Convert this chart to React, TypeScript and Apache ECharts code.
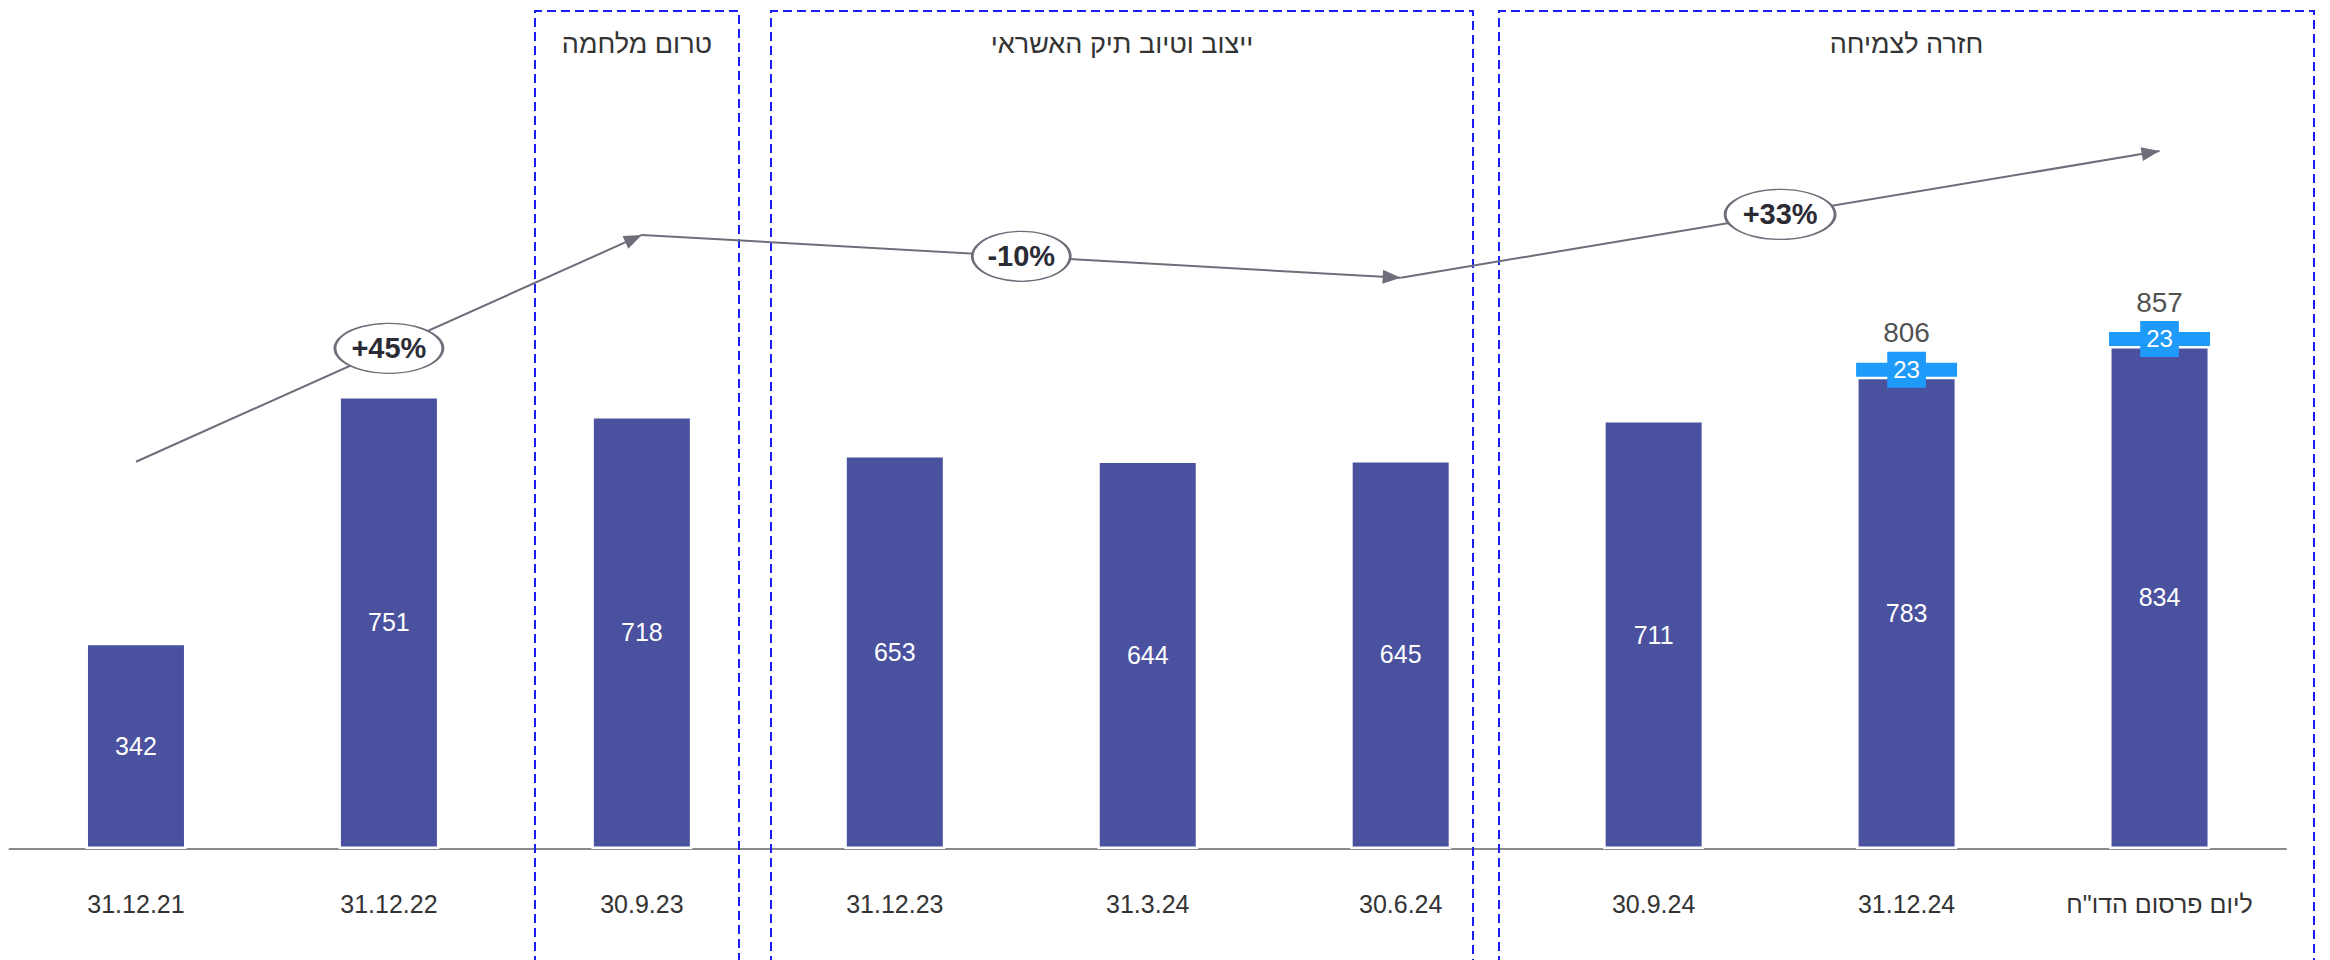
import React, { useEffect, useRef } from 'react';
import * as echarts from 'echarts';

// ---------- data ----------
const categories = ['31.12.21', '31.12.22', '30.9.23', '31.12.23', '31.3.24', '30.6.24', '30.9.24', '31.12.24', 'ליום פרסום הדו"ח'];
const baseValues = [342, 751, 718, 653, 644, 645, 711, 783, 834];
const addedValues: (number | null)[] = [null, null, null, null, null, null, null, 23, 23];
// trend arrows: anchor category indices and levels (axis units)
const arrowCats = [0, 2, 5, 8];
const arrowLevels = [642, 1018, 947, 1157];
const changeLabels = ['+45%', '-10%', '+33%'];
const periodTitles = ['טרום מלחמה', 'ייצוב וטיוב תיק האשראי', 'חזרה לצמיחה'];

// ---------- layout / style ----------
const W = 2330;
const H = 960;
const periodBoxes = [
  [535, 739],
  [771, 1473],
  [1499, 2314],
];
const BOX_TOP = 11;
const DARK = '#4a519f';
const LIGHT = '#1e9bfa';
const ARROW = '#6e6e7a';
const BOXC = '#1c1cf5';
const FONT = '"Liberation Sans", Arial, sans-serif';
const ellipseWidths = [108, 98, 110];

export default function App() {
  const ref = useRef<HTMLDivElement>(null);
  useEffect(() => {
    if (!ref.current) return;
    const chart = echarts.init(ref.current, undefined, { renderer: 'svg' });

    const totals = baseValues.map((v, i) => (addedValues[i] != null ? v + (addedValues[i] as number) : null));
    const totalPoints = totals
      .map((t, i) => (t != null ? [i, t] : null))
      .filter((p) => p != null);

    const arrowSegments = [] as any[];
    const ellipsePoints = [] as any[];
    for (let k = 0; k < arrowCats.length - 1; k++) {
      arrowSegments.push([
        { coord: [arrowCats[k], arrowLevels[k]] },
        { coord: [arrowCats[k + 1], arrowLevels[k + 1]] },
      ]);
      ellipsePoints.push({
        value: [(arrowCats[k] + arrowCats[k + 1]) / 2, (arrowLevels[k] + arrowLevels[k + 1]) / 2],
        symbolSize: [ellipseWidths[k], 50],
        label: { formatter: changeLabels[k] },
      });
    }

    const graphics: any[] = [];
    periodBoxes.forEach(([x1, x2], i) => {
      graphics.push({
        type: 'polyline',
        silent: true,
        shape: { points: [[x1, H + 5], [x1, BOX_TOP], [x2, BOX_TOP], [x2, H + 5]] },
        style: { stroke: BOXC, lineWidth: 2, lineDash: [9, 5], fill: null },
        z: 1,
      });
      graphics.push({
        type: 'text',
        silent: true,
        x: (x1 + x2) / 2,
        y: 44,
        style: {
          text: periodTitles[i],
          fill: '#333333',
          font: `27px ${FONT}`,
          textAlign: 'center',
          textVerticalAlign: 'middle',
        },
        z: 1,
      });
    });

    chart.setOption({
      animation: false,
      backgroundColor: '#ffffff',
      textStyle: { fontFamily: FONT },
      grid: { left: 9.5, right: 44, top: 4.5, bottom: 111, containLabel: false },
      xAxis: [
        {
          type: 'category',
          data: categories,
          axisTick: { show: false },
          axisLine: { lineStyle: { color: '#8a8a8a', width: 2 } },
          axisLabel: { color: '#333333', fontSize: 25, margin: 42, fontFamily: FONT, interval: 0 },
          splitLine: { show: false },
        },
        { type: 'value', min: -0.5, max: 8.5, show: false, splitLine: { show: false } },
      ],
      yAxis: { type: 'value', min: 0, max: 1400, show: false, splitLine: { show: false } },
      graphic: graphics,
      series: [
        {
          type: 'bar',
          name: 'base',
          stack: 'a',
          data: baseValues,
          barWidth: 101,
          itemStyle: { color: DARK, borderColor: '#ffffff', borderWidth: 2.5 },
          label: { show: true, position: 'inside', color: '#ffffff', fontSize: 25, fontFamily: FONT },
          z: 2,
        },
        {
          type: 'bar',
          name: 'added',
          stack: 'a',
          data: addedValues.map((v) => (v == null ? '-' : v)),
          barWidth: 101,
          itemStyle: { color: LIGHT },
          label: {
            show: true,
            position: 'inside',
            color: '#ffffff',
            fontSize: 24,
            fontFamily: FONT,
            backgroundColor: LIGHT,
            padding: [6, 6],
          },
          z: 3,
        },
        {
          type: 'scatter',
          name: 'totals',
          xAxisIndex: 1,
          data: totalPoints,
          symbolSize: 0,
          label: {
            show: true,
            position: 'top',
            distance: 16,
            color: '#222222',
            fontSize: 28,
            fontFamily: FONT,
            formatter: (p: any) => String(p.value[1]),
          },
          z: 4,
        },
        {
          type: 'scatter',
          name: 'arrows',
          xAxisIndex: 1,
          data: [],
          markLine: {
            silent: true,
            symbol: ['none', 'triangle'],
            symbolSize: [14, 18],
            symbolOffset: [0, [0, 9]],
            label: { show: false },
            lineStyle: { color: ARROW, width: 2, type: 'solid' },
            data: arrowSegments,
          },
          z: 5,
        },
        {
          type: 'scatter',
          name: 'changes',
          xAxisIndex: 1,
          symbol: 'circle',
          data: ellipsePoints,
          itemStyle: { color: '#ffffff', borderColor: ARROW, borderWidth: 2, opacity: 1 },
          label: {
            show: true,
            position: 'inside',
            color: '#2b2b36',
            fontSize: 29,
            fontWeight: 'bold',
            fontFamily: FONT,
          },
          z: 10,
        },
      ],
    });
    return () => chart.dispose();
  }, []);

  return (
    <div
      ref={ref}
      style={{ position: 'fixed', left: 0, top: 0, width: W, height: H, background: '#fff' }}
    />
  );
}
